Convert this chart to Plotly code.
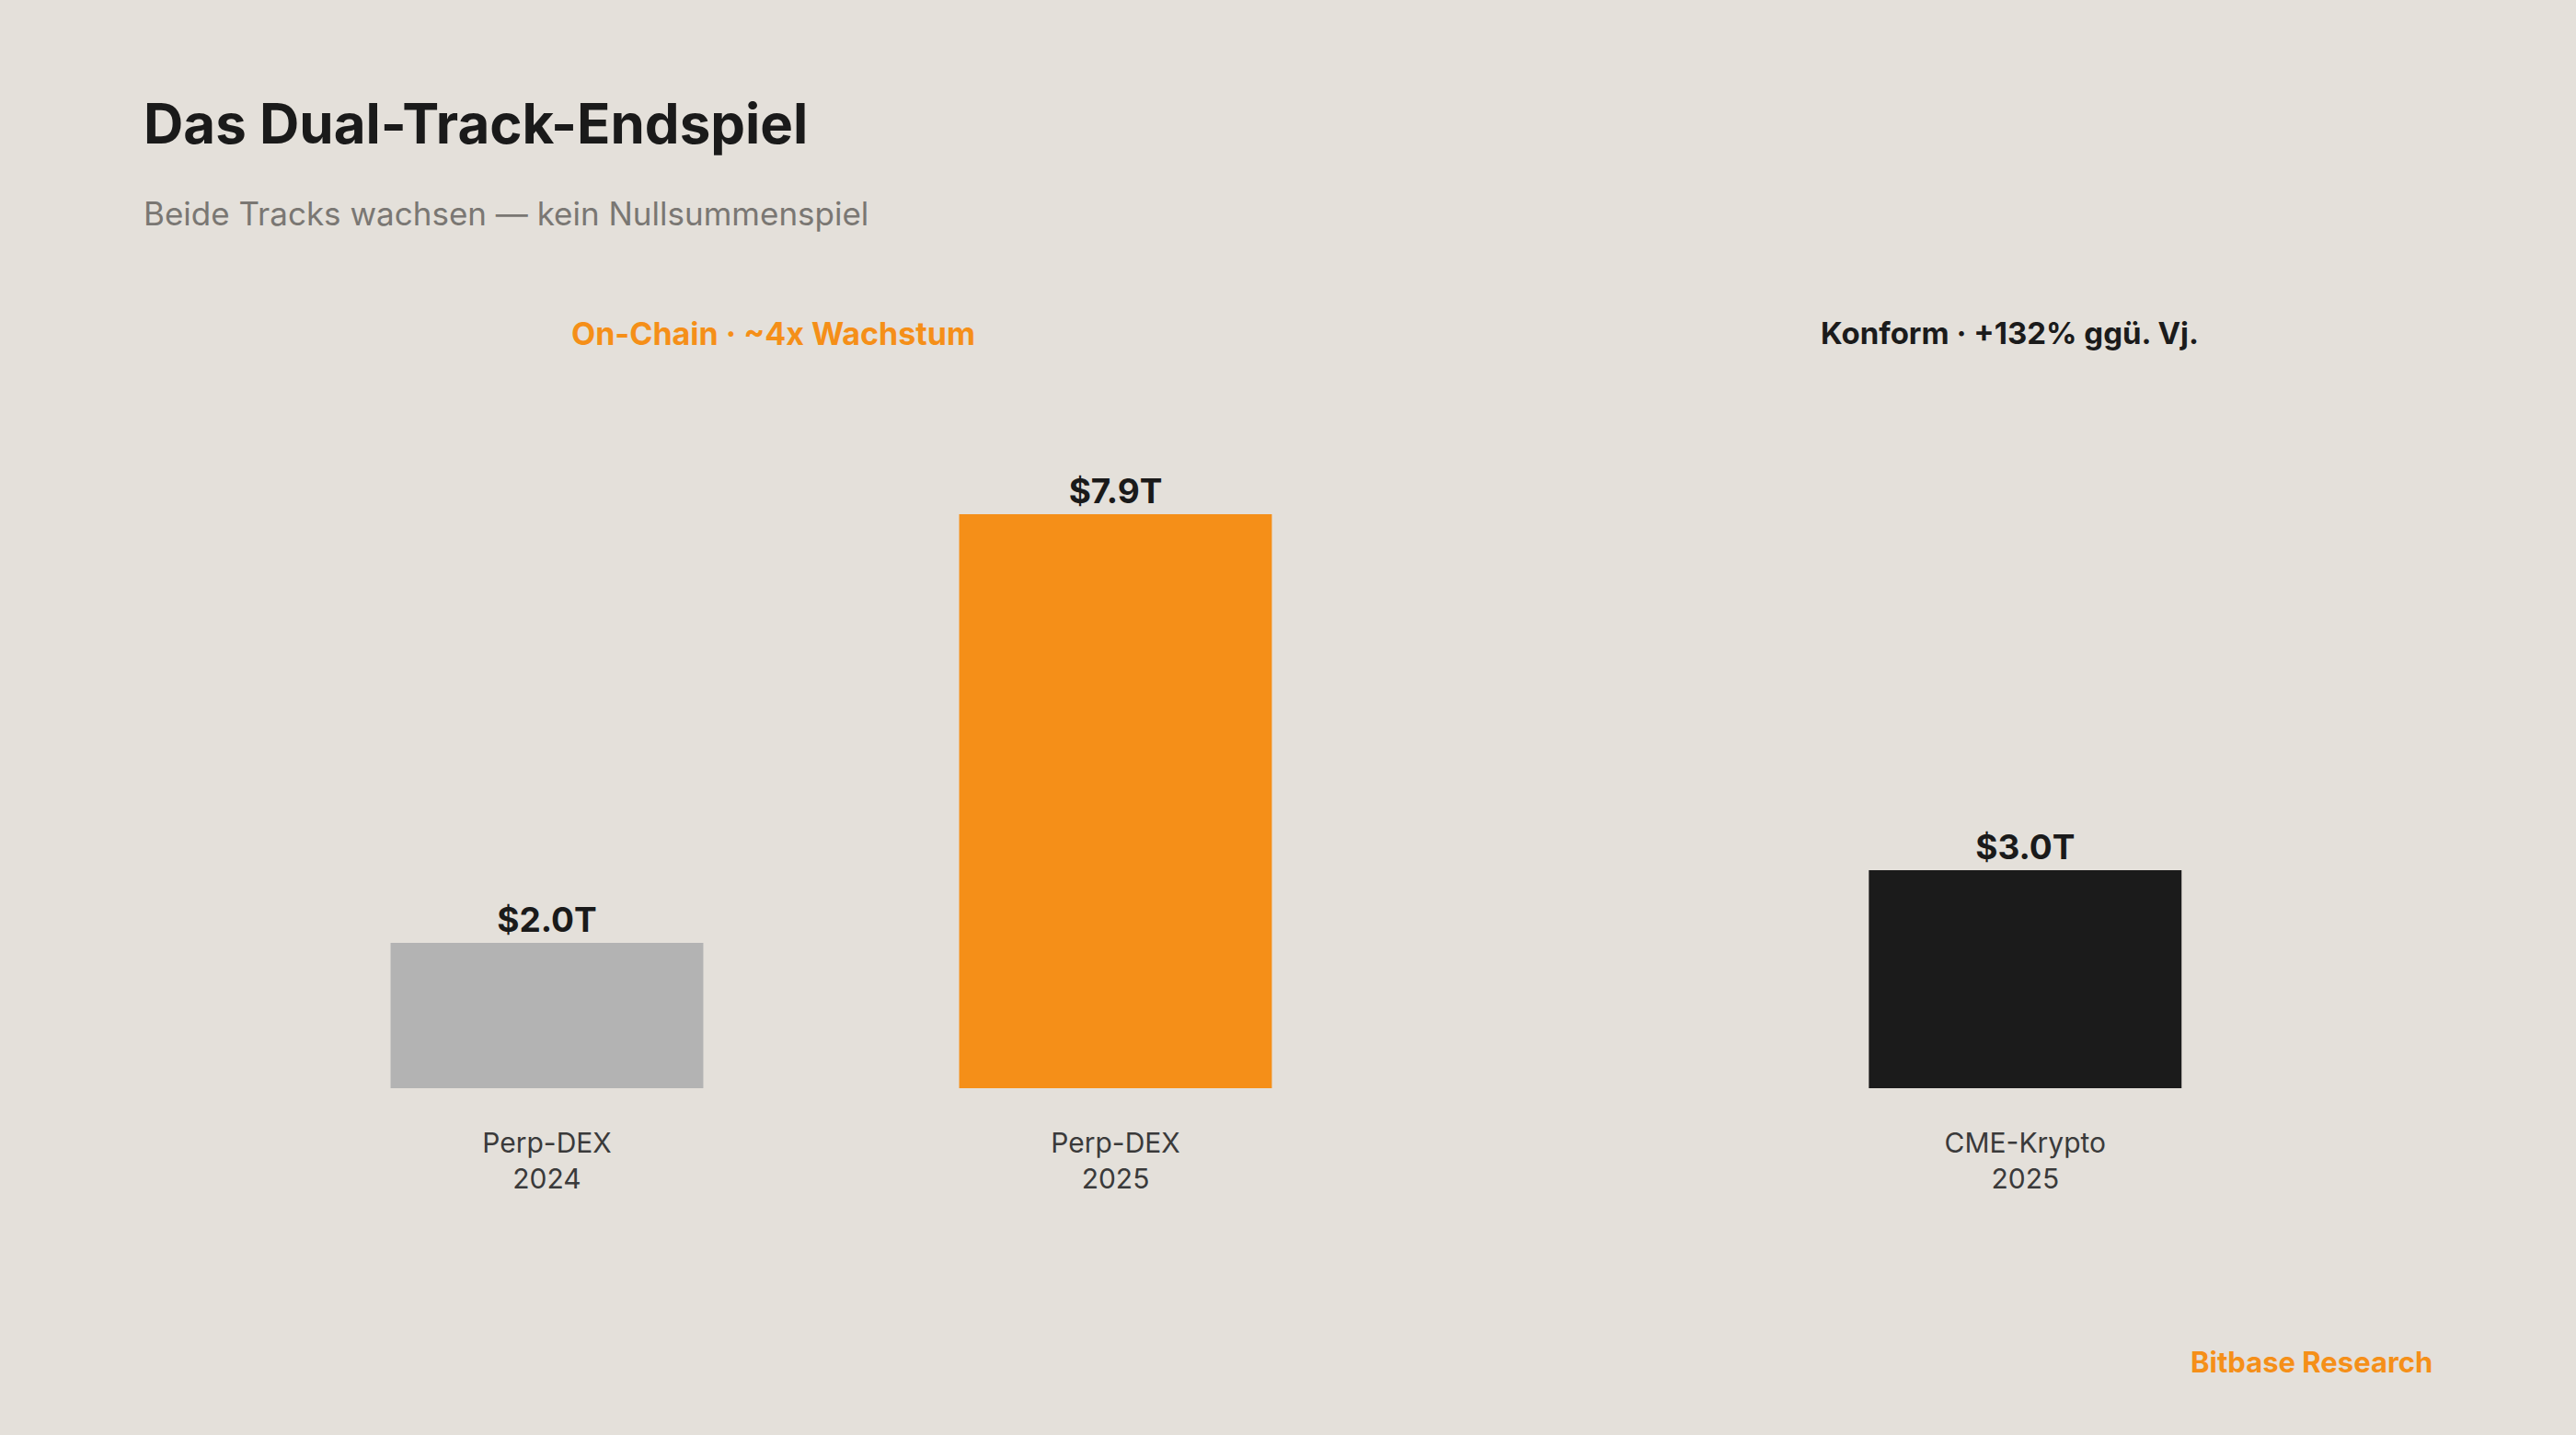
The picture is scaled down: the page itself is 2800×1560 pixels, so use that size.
import plotly.graph_objects as go

# ---- data ----
categories = ["Perp-DEX<br>2024", "Perp-DEX<br>2025", "CME-Krypto<br>2025"]
positions = [0, 1, 2.6]
values = [2.0, 7.9, 3.0]
bar_colors = ["#B3B3B3", "#F58F18", "#1B1B1B"]
title = "Das Dual-Track-Endspiel"
subtitle = "Beide Tracks wachsen — kein Nullsummenspiel"
group_headers = ["On-Chain · ~4x Wachstum", "Konform · +132% ggü. Vj."]
header_colors = ["#F58F18", "#1B1B1B"]
footer = "Bitbase Research"

W, H = 2800, 1560
T, B = 393, 377
PLOT_H = H - T - B
FONT = "Inter, 'Open Sans', sans-serif"
BG = "#E4E0DA"


def py(p):
    # pixel y -> paper y
    return (H - B - p) / PLOT_H


fig = go.Figure()
fig.add_trace(go.Bar(
    x=positions,
    y=values,
    width=0.55,
    marker=dict(color=bar_colors, line=dict(width=0)),
    texttemplate="$%{y:.1f}T",
    textposition="outside",
    textfont=dict(family=FONT, size=37, color="#1A1A1A", weight=700),
    cliponaxis=False,
    hoverinfo="skip",
))

annotations = [
    dict(text=title, x=154 / W, y=py(134), xanchor="left", yanchor="middle",
         font=dict(family=FONT, size=60, color="#1A1A1A", weight=700)),
    dict(text=subtitle, x=154 / W, y=py(232), xanchor="left", yanchor="middle",
         font=dict(family=FONT, size=35, color="#7A7773")),
    dict(text=group_headers[0], x=840 / W, y=py(362), xanchor="center", yanchor="middle",
         font=dict(family=FONT, size=34, color=header_colors[0], weight=700)),
    dict(text=group_headers[1], x=2184 / W, y=py(362), xanchor="center", yanchor="middle",
         font=dict(family=FONT, size=33, color=header_colors[1], weight=700)),
    dict(text=footer, x=2646 / W, y=py(1480), xanchor="right", yanchor="middle",
         font=dict(family=FONT, size=31, color="#F58F18", weight=700)),
]
for a in annotations:
    a.update(xref="paper", yref="paper", showarrow=False)

x0 = 594.5
unit = 618.0
fig.update_layout(
    width=W, height=H,
    margin=dict(l=0, r=0, t=T, b=B, pad=0),
    paper_bgcolor=BG, plot_bgcolor=BG,
    showlegend=False,
    annotations=annotations,
    xaxis=dict(
        range=[-x0 / unit, (W - x0) / unit],
        tickvals=positions, ticktext=categories,
        showgrid=False, zeroline=False, showline=False, ticks="",
        tickfont=dict(family=FONT, size=30, color="#3A3A3A"),
        ticklabelstandoff=39,
        fixedrange=True,
    ),
    yaxis=dict(
        range=[0, 10], visible=False, showgrid=False, zeroline=False,
        fixedrange=True,
    ),
)

fig.write_html("out.html")
